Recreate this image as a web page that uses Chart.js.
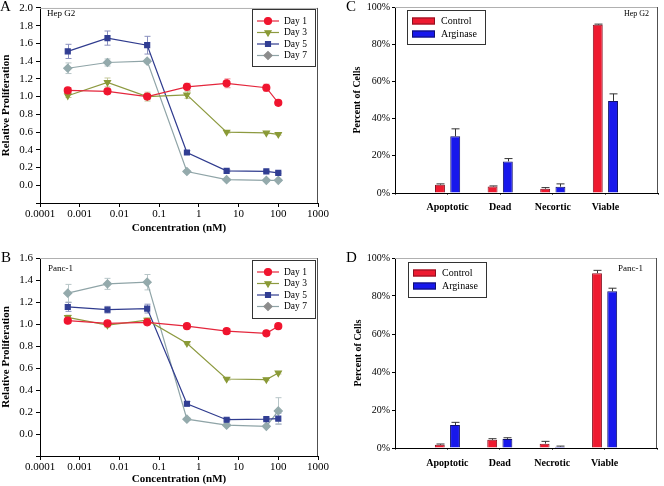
<!DOCTYPE html>
<html>
<head>
<meta charset="utf-8">
<script src="https://cdn.jsdelivr.net/npm/chart.js@4.4.0/dist/chart.umd.min.js"></script>
<style>
  body { margin: 0; background: #fff; }
  #fig { position: relative; width: 664px; height: 486px; overflow: hidden; background: #fff; }
  canvas { position: absolute; }
  .tag { position: absolute; font: 15px "Liberation Serif", serif; line-height: 15px; color: #000; }
</style>
</head>
<body>
<div id="fig">
  <canvas id="chartA" width="330" height="240" style="left:0;top:0"></canvas>
  <canvas id="chartB" width="330" height="246" style="left:0;top:240px"></canvas>
  <canvas id="chartC" width="334" height="240" style="left:330px;top:0"></canvas>
  <canvas id="chartD" width="334" height="246" style="left:330px;top:240px"></canvas>
  <div class="tag" style="left:0;top:-1px">A</div>
  <div class="tag" style="left:1px;top:250px">B</div>
  <div class="tag" style="left:346px;top:-1px">C</div>
  <div class="tag" style="left:346px;top:250px">D</div>
</div>
<script>
// concentrations (nM) and log axis decades
const concentrations = [0.0005, 0.005, 0.05, 0.5, 5, 50, 100];
const decadeTicks = [0.0001, 0.001, 0.01, 0.1, 1, 10, 100, 1000];
const dayLabels = ['Day 1', 'Day 3', 'Day 5', 'Day 7'];

// A - Hep G2 relative proliferation
const hepDay1 = [1.07, 1.06, 1.00, 1.11, 1.15, 1.10, 0.93];
const hepDay3 = [1.01, 1.16, 1.00, 1.02, 0.60, 0.59, 0.575];
const hepDay5 = [1.51, 1.66, 1.58, 0.37, 0.163, 0.156, 0.14];
const hepDay7 = [1.32, 1.385, 1.40, 0.155, 0.063, 0.056, 0.056];
const hepErr1 = [0.03, 0.03, 0.03, 0.04, 0.05, 0.04, 0.02];
const hepErr3 = [0.02, 0.05, 0.05, 0.04, 0.01, 0.01, 0.01];
const hepErr5 = [0.08, 0.08, 0.10, 0.02, 0.01, 0.01, 0.01];
const hepErr7 = [0.06, 0.04, 0.02, 0.01, 0.01, 0.01, 0.01];

// B - Panc-1 relative proliferation
const pancDay1 = [1.03, 1.005, 1.015, 0.98, 0.935, 0.915, 0.98];
const pancDay3 = [1.06, 0.99, 1.035, 0.825, 0.50, 0.495, 0.555];
const pancDay5 = [1.155, 1.13, 1.14, 0.275, 0.13, 0.135, 0.14];
const pancDay7 = [1.28, 1.365, 1.38, 0.135, 0.08, 0.07, 0.21];
const pancErr1 = [0.02, 0.02, 0.02, 0.01, 0.02, 0.01, 0.01];
const pancErr3 = [0.02, 0.02, 0.02, 0.01, 0.01, 0.01, 0.01];
const pancErr5 = [0.04, 0.03, 0.04, 0.02, 0.01, 0.01, 0.05];
const pancErr7 = [0.08, 0.05, 0.07, 0.01, 0.01, 0.01, 0.12];

// C / D - percent of cells
const statesC = ['Apoptotic', 'Dead', 'Necortic', 'Viable'];
const statesD = ['Apoptotic', 'Dead', 'Necrotic', 'Viable'];
const hepControl = [4.5, 3.5, 2.3, 90.5];
const hepArginase = [30.5, 17.0, 3.4, 49.5];
const hepControlErr = [0.4, 0.3, 0.6, 0.3];
const hepArginaseErr = [4.0, 1.5, 1.5, 3.8];
const pancControl = [1.7, 4.3, 2.3, 92.0];
const pancArginase = [12.1, 4.8, 0.7, 82.5];
const pancControlErr = [0.4, 0.6, 1.2, 1.5];
const pancArginaseErr = [1.4, 0.6, 0.3, 1.6];

const serif = '"Liberation Serif", "Times New Roman", serif';
Chart.defaults.font.family = serif;
Chart.defaults.color = '#000';
Chart.defaults.animation = false;

// error bars (both ways for lines, upward only for bars)
const errorBars = {
  id: 'errorBars',
  beforeDatasetsDraw(chart) {
    const ctx = chart.ctx;
    const ys = chart.scales.y;
    chart.data.datasets.forEach((ds, di) => {
      if (!ds.err) return;
      const meta = chart.getDatasetMeta(di);
      ctx.save();
      ctx.strokeStyle = ds.errColor;
      ctx.lineWidth = 1;
      meta.data.forEach((el, i) => {
        const d = ds.data[i];
        const v = (d && typeof d === 'object') ? d.y : d;
        const e = ds.err[i];
        if (v == null || !e) return;
        const x = Math.round(el.x) + 0.5;
        const top = ys.getPixelForValue(v + e);
        const bot = ds.upOnly ? el.y : ys.getPixelForValue(v - e);
        const cap = ds.capWidth || 3;
        ctx.beginPath();
        ctx.moveTo(x, top); ctx.lineTo(x, bot);
        ctx.moveTo(x - cap, top); ctx.lineTo(x + cap, top);
        if (!ds.upOnly) { ctx.moveTo(x - cap, bot); ctx.lineTo(x + cap, bot); }
        ctx.stroke();
      });
      ctx.restore();
    });
  }
};

// top/right frame lines
const frame = {
  id: 'frame',
  beforeDatasetsDraw(chart) {
    const { ctx, chartArea: a } = chart;
    ctx.save();
    ctx.lineWidth = 1;
    ctx.strokeStyle = '#b0b0b0';
    ctx.beginPath(); ctx.moveTo(a.left, a.top + 0.5); ctx.lineTo(a.right, a.top + 0.5); ctx.stroke();
    ctx.strokeStyle = '#505050';
    ctx.beginPath(); ctx.moveTo(a.right - 0.5, a.top); ctx.lineTo(a.right - 0.5, a.bottom); ctx.stroke();
    ctx.restore();
  }
};

// legend drawn inside a bordered box
const boxLegend = {
  id: 'boxLegend',
  afterDraw(chart, args, o) {
    if (!o.box) return;
    const ctx = chart.ctx;
    const b = o.box;
    ctx.save();
    ctx.fillStyle = '#fff';
    ctx.fillRect(b.left, b.top, b.width, b.height);
    ctx.strokeStyle = '#333';
    ctx.lineWidth = 1;
    ctx.strokeRect(b.left + 0.5, b.top + 0.5, b.width, b.height);
    ctx.font = o.font;
    ctx.textBaseline = 'middle';
    chart.data.datasets.forEach((ds, i) => {
      const y = b.top + o.first + i * o.step;
      if (chart.config.type === 'line') {
        ctx.strokeStyle = ds.borderColor;
        ctx.lineWidth = 1.2;
        ctx.beginPath(); ctx.moveTo(b.left + 5, y); ctx.lineTo(b.left + 27, y); ctx.stroke();
        ctx.fillStyle = ds.legendMarker || ds.pointBackgroundColor;
        ctx.strokeStyle = ds.legendMarker || ds.pointBackgroundColor;
        Chart.helpers.drawPoint(ctx, { pointStyle: ds.pointStyle, radius: ds.pointRadius, rotation: ds.pointRotation || 0, borderWidth: 1 }, b.left + 16, y);
      } else {
        ctx.fillStyle = ds.backgroundColor;
        ctx.fillRect(b.left + 5, y - 3.5, 23, 7);
        ctx.strokeStyle = ds.borderColor;
        ctx.strokeRect(b.left + 5.5, y - 3, 22, 6);
      }
      ctx.fillStyle = '#000';
      ctx.fillText(ds.label, b.left + o.textX, y);
    });
    ctx.restore();
  }
};

// small cell-line label in the plot corner
const cornerLabel = {
  id: 'cornerLabel',
  afterDraw(chart, args, o) {
    if (!o.text) return;
    const ctx = chart.ctx;
    ctx.save();
    ctx.font = o.font;
    ctx.fillStyle = '#000';
    ctx.textAlign = o.align || 'left';
    ctx.textBaseline = 'middle';
    ctx.fillText(o.text, o.x, o.y);
    ctx.restore();
  }
};

Chart.register(errorBars, frame, boxLegend, cornerLabel);

const seriesStyle = [
  { color: '#E4263C', point: '#F0142E', err: '#F08A94', style: 'circle', rot: 0 },
  { color: '#8D9A40', point: '#8A9A36', err: '#C4C89A', style: 'triangle', rot: 180 },
  { color: '#2F3B8E', point: '#313E93', err: '#8A90BE', style: 'rect', rot: 0 },
  { color: '#8FA4A7', point: '#94AAAC', err: '#B8C6C8', style: 'rectRot', rot: 0, legend: '#8C8C8C' }
];

function lineChart(id, days, errs, ymax, geom) {
  const datasets = days.map((vals, k) => {
    const s = seriesStyle[k];
    return {
      label: dayLabels[k],
      data: concentrations.map((c, i) => ({ x: c, y: vals[i] })),
      err: errs[k],
      errColor: s.err,
      capWidth: 3,
      borderColor: s.color,
      borderWidth: 1.2,
      pointBackgroundColor: s.point,
      pointBorderColor: s.point,
      pointStyle: s.style,
      pointRotation: s.rot,
      pointRadius: s.style === 'rectRot' ? 4 : 3.5,
      legendMarker: s.legend,
      tension: 0
    };
  });
  return new Chart(document.getElementById(id), {
    type: 'line',
    data: { datasets },
    options: {
      responsive: false,
      layout: { padding: { left: 0, top: geom.top, right: geom.right, bottom: 0 } },
      plugins: {
        legend: { display: false },
        tooltip: { enabled: false },
        boxLegend: { box: geom.legend, font: '9.5px ' + serif, first: 12, step: 11.5, textX: 32 },
        cornerLabel: geom.corner
      },
      scales: {
        x: {
          type: 'logarithmic',
          min: 0.0001, max: 1000,
          afterBuildTicks: s => { s.ticks = decadeTicks.map(v => ({ value: v })); },
          afterFit: s => { s.height = geom.xHeight; },
          grid: { drawOnChartArea: false, tickLength: 4, color: '#000' },
          border: { color: '#000' },
          ticks: { font: { size: 11 }, padding: geom.xTickPad, maxRotation: 0, autoSkip: false, callback: v => String(v) },
          title: { display: true, text: 'Concentration (nM)', font: { size: 11, weight: 'bold' }, padding: { top: 0, bottom: geom.xTitlePad } }
        },
        y: {
          min: -0.2, max: ymax,
          afterFit: s => { s.width = 40; },
          grid: { drawOnChartArea: false, tickLength: 4, color: '#000' },
          border: { color: '#000' },
          ticks: { stepSize: 0.2, font: { size: 11, lineHeight: 0.9 }, padding: 3,
                   callback: v => v < -0.01 ? '' : v.toFixed(1) },
          title: { display: true, text: 'Relative Proliferation', font: { size: 11, weight: 'bold' }, padding: { top: 0, bottom: 0 } }
        }
      }
    }
  });
}

function barChart(id, states, ctrl, arg, ctrlErr, argErr, geom) {
  const pad = a => [null, ...a, null];
  return new Chart(document.getElementById(id), {
    type: 'bar',
    data: {
      labels: ['', ...states, ''],
      datasets: [
        { label: 'Control', data: pad(ctrl), err: pad(ctrlErr), upOnly: true, errColor: '#333', capWidth: 4,
          backgroundColor: '#EE1A30', borderColor: '#8A1020', borderWidth: 1 },
        { label: 'Arginase', data: pad(arg), err: pad(argErr), upOnly: true, errColor: '#333', capWidth: 4,
          backgroundColor: '#1818EC', borderColor: '#10106A', borderWidth: 1 }
      ]
    },
    options: {
      responsive: false,
      categoryPercentage: 0.58,
      barPercentage: 0.65,
      layout: { padding: { left: 0, top: geom.top, right: 2, bottom: 0 } },
      plugins: {
        legend: { display: false },
        tooltip: { enabled: false },
        boxLegend: { box: geom.legend, font: '10px ' + serif, first: 11, step: 13, textX: 34 },
        cornerLabel: geom.corner
      },
      scales: {
        x: {
          type: 'category',
          offset: false,
          afterFit: s => { s.height = geom.xHeight; },
          grid: { drawOnChartArea: false, offset: false, tickLength: 2, color: '#666' },
          border: { color: '#000' },
          ticks: { font: { size: 10, weight: 'bold' }, padding: geom.xTickPad + 1, maxRotation: 0, autoSkip: false }
        },
        y: {
          min: 0, max: 100,
          afterFit: s => { s.width = 65; },
          grid: { drawOnChartArea: false, tickLength: 3, color: '#000' },
          border: { color: '#000' },
          ticks: { stepSize: 20, font: { size: 10, lineHeight: 1 }, padding: 2, callback: v => v + '%' },
          title: { display: true, text: 'Percent of Cells', font: { size: 10, weight: 'bold' }, padding: { top: geom.yTitlePad, bottom: 0 } }
        }
      }
    }
  });
}

lineChart('chartA', [hepDay1, hepDay3, hepDay5, hepDay7], [hepErr1, hepErr3, hepErr5, hepErr7], 2.0, {
  top: 5, right: 11, xHeight: 37, xTickPad: 1, xTitlePad: 5,
  legend: { left: 252, top: 9, width: 63, height: 57 },
  corner: { text: 'Hep G2', font: '9px ' + serif, x: 47, y: 14, align: 'left' }
});

lineChart('chartB', [pancDay1, pancDay3, pancDay5, pancDay7], [pancErr1, pancErr3, pancErr5, pancErr7], 1.6, {
  top: 18, right: 11, xHeight: 30, xTickPad: 1, xTitlePad: 0,
  legend: { left: 252, top: 20, width: 63, height: 58 },
  corner: { text: 'Panc-1', font: '9px ' + serif, x: 48, y: 29, align: 'left' }
});

barChart('chartC', statesC, hepControl, hepArginase, hepControlErr, hepArginaseErr, {
  top: 7, xHeight: 47, xTickPad: 5, yTitlePad: 21,
  legend: { left: 77, top: 10, width: 78, height: 34 },
  corner: { text: 'Hep G2', font: '8px ' + serif, x: 319, y: 14, align: 'right' }
});

barChart('chartD', statesD, pancControl, pancArginase, pancControlErr, pancArginaseErr, {
  top: 18, xHeight: 38, xTickPad: 6, yTitlePad: 22,
  legend: { left: 78, top: 22, width: 78, height: 35 },
  corner: { text: 'Panc-1', font: '9px ' + serif, x: 313, y: 29, align: 'right' }
});
</script>
</body>
</html>
